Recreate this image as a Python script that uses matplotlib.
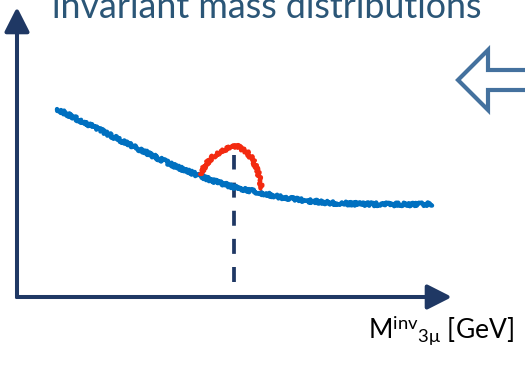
import matplotlib
matplotlib.use("Agg")
import matplotlib.pyplot as plt
from matplotlib.patches import FancyArrow

plt.rcParams['font.family'] = ['Lato', 'DejaVu Sans']
plt.rcParams['mathtext.fontset'] = 'custom'
plt.rcParams['mathtext.rm'] = 'Lato'
plt.rcParams['mathtext.it'] = 'Lato:italic'

# background spectrum (arbitrary units)
bkg_m = [0.92, 1.40, 1.91, 2.45, 3.06, 3.60, 4.21, 4.60, 4.97, 5.30, 5.59, 6.05, 6.51, 7.26, 8.05, 8.80, 9.54]
bkg_n = [6.48, 6.12, 5.76, 5.35, 4.92, 4.53, 4.17, 3.96, 3.80, 3.69, 3.59, 3.45, 3.34, 3.24, 3.20, 3.19, 3.20]

# signal peak on top of the background
sig_m = [4.21, 4.36, 4.55, 4.78, 5.05, 5.28, 5.43, 5.52, 5.59, 5.63]
sig_n = [4.24, 4.61, 4.90, 5.09, 5.21, 5.01, 4.72, 4.38, 4.03, 3.75]

peak_m = 4.99
peak_top = 4.90

title = "invariant mass distributions"
xlabel = r"M$^{\mathrm{inv}}{}_{\mathrm{3μ}}$ [GeV]"

navy = '#1f3864'

fig = plt.figure(figsize=(5.25, 3.67), dpi=100)
ax = fig.add_axes([17 / 525, 70 / 367, 435 / 525, 290 / 367])
ax.set_xlim(0, 10)
ax.set_ylim(0, 10)
ax.axis('off')

# axes with arrowheads
arr = dict(arrowstyle='-|>,head_length=0.75,head_width=0.38', mutation_scale=20,
           lw=2.9, color=navy, shrinkA=0, shrinkB=0, capstyle='butt')
ax.annotate('', xy=(10, 0), xytext=(-0.03, 0), arrowprops=arr, annotation_clip=False)
ax.annotate('', xy=(0, 10), xytext=(0, -0.05), arrowprops=arr, annotation_clip=False)

ax.plot([peak_m, peak_m], [0.52, peak_top], color=navy, lw=2.7, dashes=(4.0, 3.5), zorder=1)

bl, = ax.plot(bkg_m, bkg_n, color='#0070c0', lw=3.2, solid_capstyle='round', zorder=2)
sl, = ax.plot(sig_m, sig_n, color='#f32a10', lw=3.0, solid_capstyle='round', zorder=3)
for ln in (bl, sl):
    ln.set_sketch_params(scale=1.8, length=2.0, randomness=3)

# overlay in pixel units for the annotations
ov = fig.add_axes([0, 0, 1, 1], facecolor='none')
ov.set_xlim(0, 525)
ov.set_ylim(367, 0)
ov.axis('off')

ov.text(52, 18, title, fontsize=25.8, color='#2b5677', va='baseline', ha='left')
ov.text(368, 338, xlabel, fontsize=19, color='black', va='baseline', ha='left')

ov.add_patch(FancyArrow(540, 80, -82, 0, width=20, head_width=60, head_length=30,
                        length_includes_head=True, facecolor='white',
                        edgecolor='#44719e', lw=3.0, joinstyle='miter'))

fig.savefig('out.png', dpi=100)
